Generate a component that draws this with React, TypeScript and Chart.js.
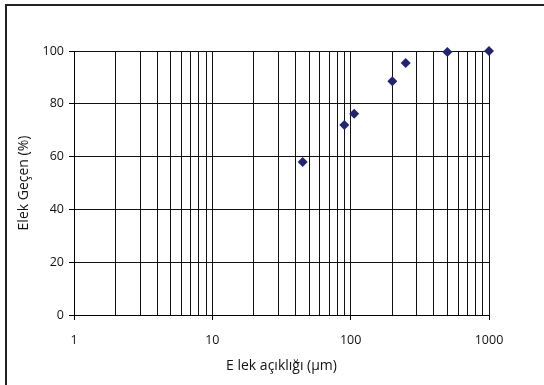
import React, { useEffect, useRef } from "react";
import { Chart, registerables } from "chart.js";

Chart.register(...registerables);

const sieveOpening = [45, 90, 106, 200, 250, 500, 1000];
const passingPercent = [58, 72, 76.2, 88.5, 95.5, 99.6, 100];
const xTickValues = [1, 2, 3, 4, 5, 6, 7, 8, 9, 10, 20, 30, 40, 50, 60, 70, 80, 90, 100, 200, 300, 400, 500, 600, 700, 800, 900, 1000];
const xLabelValues = [1, 10, 100, 1000];
const yTickValues = [0, 20, 40, 60, 80, 100];

const FONT = "'Open Sans', 'Noto Sans', sans-serif";

export default function App() {
  const ref = useRef<HTMLCanvasElement>(null);
  useEffect(() => {
    document.body.style.margin = "0";
    const ctx = ref.current!;
    const chart = new Chart(ctx, {
      type: "scatter",
      data: {
        datasets: [
          {
            data: sieveOpening.map((x, i) => ({ x, y: passingPercent[i] })),
            pointStyle: "rectRot",
            radius: 5,
            hoverRadius: 5,
            backgroundColor: "#232373",
            borderColor: "#232373",
            borderWidth: 0,
            clip: false as any,
          },
        ],
      },
      options: {
        animation: false,
        responsive: false,
        events: [],
        layout: { padding: { left: 16, right: 55, top: 51, bottom: 0 } },
        plugins: { legend: { display: false }, tooltip: { enabled: false } },
        scales: {
          x: {
            type: "logarithmic",
            min: 1,
            max: 1000,
            afterBuildTicks: (s: any) => {
              s.ticks = xTickValues.map((v) => ({ value: v }));
            },
            afterFit: (s: any) => {
              s.height = 70;
            },
            border: { color: "#000", width: 1 },
            grid: {
              color: "#111",
              lineWidth: 1,
              tickLength: 5,
              tickColor: (c: any) => (xLabelValues.includes(c.tick?.value) ? "#000" : "rgba(0,0,0,0)"),
            },
            ticks: {
              autoSkip: false,
              maxRotation: 0,
              padding: 13,
              color: "#111",
              font: { family: FONT, size: 12.5 },
              callback: (v: any) => (xLabelValues.includes(Number(v)) ? String(v) : ""),
            },
            title: {
              display: true,
              text: "E lek açıklığı (μm)",
              color: "#111",
              font: { family: FONT, size: 14 },
              padding: { top: 0, bottom: 11 },
            },
          },
          y: {
            min: 0,
            max: 100,
            afterBuildTicks: (s: any) => {
              s.ticks = yTickValues.map((v) => ({ value: v }));
            },
            afterFit: (s: any) => {
              s.width = 58;
            },
            border: { color: "#000", width: 1 },
            grid: { color: "#111", lineWidth: 1, tickLength: 5, tickColor: "#000" },
            ticks: {
              padding: 5,
              color: "#111",
              font: { family: FONT, size: 12.5 },
            },
            title: {
              display: true,
              text: "Elek Geçen (%)",
              color: "#111",
              font: { family: FONT, size: 14 },
              padding: { top: 0, bottom: 0 },
            },
          },
        },
      },
    });
    return () => chart.destroy();
  }, []);
  return (
    <div style={{ position: "relative", width: 544, height: 385, background: "#fff", overflow: "hidden" }}>
      <div
        style={{
          position: "absolute",
          left: 5,
          top: 4,
          width: 600,
          height: 400,
          border: "2px solid #222",
          boxSizing: "border-box",
        }}
      />
      <canvas ref={ref} width={544} height={385} style={{ position: "absolute", left: 0, top: 0 }} />
    </div>
  );
}
